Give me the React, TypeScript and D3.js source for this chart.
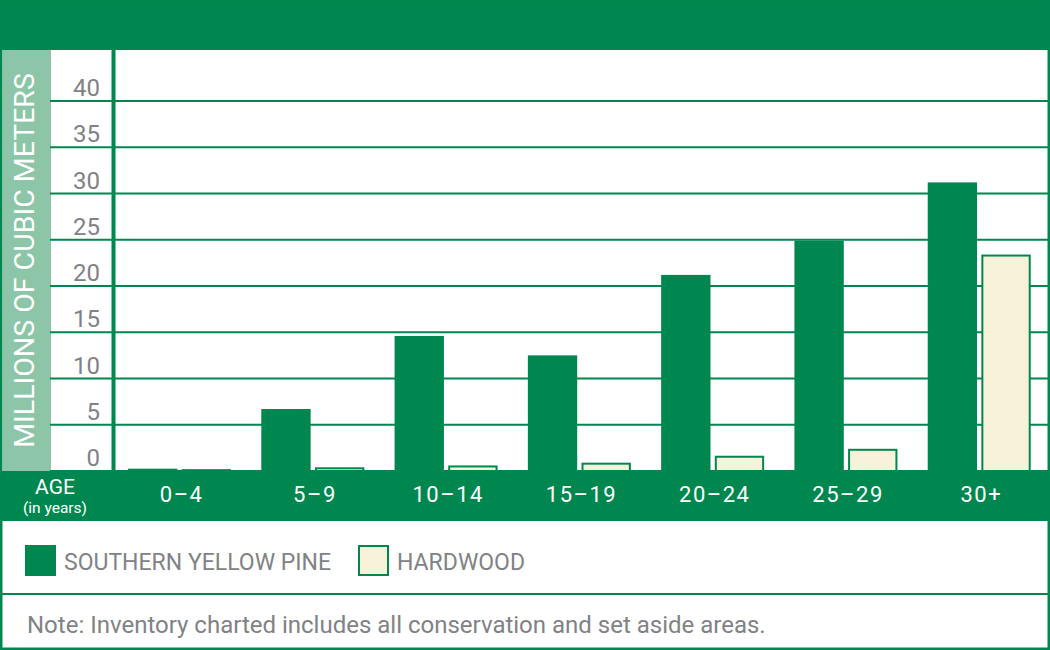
import React from 'react';
import * as d3 from 'd3';

// age classes and inventory (millions of cubic meters)
const ageClasses = ['0-4', '5-9', '10-14', '15-19', '20-24', '25-29', '30+'];
const seriesNames = ['SOUTHERN YELLOW PINE', 'HARDWOOD'];
const pineValues = [0.25, 6.7, 14.6, 12.5, 21.2, 24.9, 31.2];
const hardwoodValues = [0.2, 0.4, 0.6, 0.9, 1.65, 2.4, 23.4];
const yTicks = [0, 5, 10, 15, 20, 25, 30, 35, 40];

const GREEN = '#00874f';
const LIGHT_GREEN = '#8cc5a8';
const CREAM = '#f8f2da';
const GREY = '#808285';
const FONT = 'Roboto, "Liberation Sans", sans-serif';

const W = 1050;
const H = 650;

const App: React.FC = () => {
   const top = 50;
   const zeroY = 471;

   const y = d3.scaleLinear().domain([0, 40]).range([zeroY, 101]);
   const x = d3.scaleBand<string>().domain(ageClasses).range([115, 1048]).padding(0);
   const inner = d3
      .scaleBand<string>()
      .domain(seriesNames)
      .range([13, 116])
      .paddingInner(0.08);

   const series = [
      { name: seriesNames[0], values: pineValues, fill: GREEN, stroke: 'none' },
      { name: seriesNames[1], values: hardwoodValues, fill: CREAM, stroke: GREEN },
   ];

   return (
      <svg
         width={W}
         height={H}
         viewBox={`0 0 ${W} ${H}`}
         style={{ position: 'absolute', left: 0, top: 0, fontFamily: FONT }}
      >
         {/* background and frame */}
         <rect x={0} y={0} width={W} height={H} fill="white" />
         <rect x={0} y={0} width={W} height={top} fill={GREEN} />
         <rect x={3} y={top} width={48} height={zeroY - top} fill={LIGHT_GREEN} />
         <text
            transform={`translate(34,${(top + zeroY) / 2}) rotate(-90)`}
            textAnchor="middle"
            fill="white"
            fontSize={28.5}
         >
            MILLIONS OF CUBIC METERS
         </text>

         {/* gridlines */}
         {yTicks.map((t) => (
            <line key={t} x1={50} x2={W} y1={y(t)} y2={y(t)} stroke={GREEN} strokeWidth={2} />
         ))}
         {yTicks.map((t) => (
            <text
               key={`l${t}`}
               x={100}
               y={y(t) - 5}
               textAnchor="end"
               fill={GREY}
               fontSize={24}
            >
               {t}
            </text>
         ))}

         {/* bars */}
         {series.map((s) =>
            ageClasses.map((c, i) => {
               const bx = (x(c) ?? 0) + (inner(s.name) ?? 0);
               const bw = inner.bandwidth();
               const by = y(s.values[i]);
               const sw = s.stroke === 'none' ? 0 : 2;
               return (
                  <rect
                     key={`${s.name}-${c}`}
                     x={bx + sw / 2}
                     y={by + sw / 2}
                     width={bw - sw}
                     height={Math.max(0, zeroY - by - sw / 2)}
                     fill={s.fill}
                     stroke={s.stroke}
                     strokeWidth={sw}
                  />
               );
            }),
         )}

         {/* y axis line */}
         <line x1={113.5} x2={113.5} y1={top} y2={zeroY} stroke={GREEN} strokeWidth={4} />

         {/* x axis band */}
         <rect x={0} y={zeroY} width={W} height={521 - zeroY} fill={GREEN} />
         <text x={55} y={494} textAnchor="middle" fill="white" fontSize={21}>
            AGE
         </text>
         <text x={55} y={513} textAnchor="middle" fill="white" fontSize={15.5}>
            (in years)
         </text>
         {ageClasses.map((c) => (
            <text
               key={c}
               x={(x(c) ?? 0) + x.bandwidth() / 2}
               y={502}
               textAnchor="middle"
               fill="white"
               fontSize={22}
               letterSpacing={1.5}
            >
               {c.replace('-', '\u2013')}
            </text>
         ))}

         {/* legend */}
         <rect x={25} y={545} width={31} height={31} fill={GREEN} />
         <text x={64} y={570} fill={GREY} fontSize={23}>
            {seriesNames[0]}
         </text>
         <rect x={359} y={546} width={29} height={29} fill={CREAM} stroke={GREEN} strokeWidth={2} />
         <text x={397} y={570} fill={GREY} fontSize={23}>
            {seriesNames[1]}
         </text>

         {/* note */}
         <line x1={0} x2={W} y1={594} y2={594} stroke={GREEN} strokeWidth={2} />
         <text x={27} y={633} fill={GREY} fontSize={24}>
            Note: Inventory charted includes all conservation and set aside areas.
         </text>

         {/* outer border */}
         <rect x={1} y={1} width={W - 2} height={H - 2} fill="none" stroke={GREEN} strokeWidth={3} />
      </svg>
   );
};

export default App;
